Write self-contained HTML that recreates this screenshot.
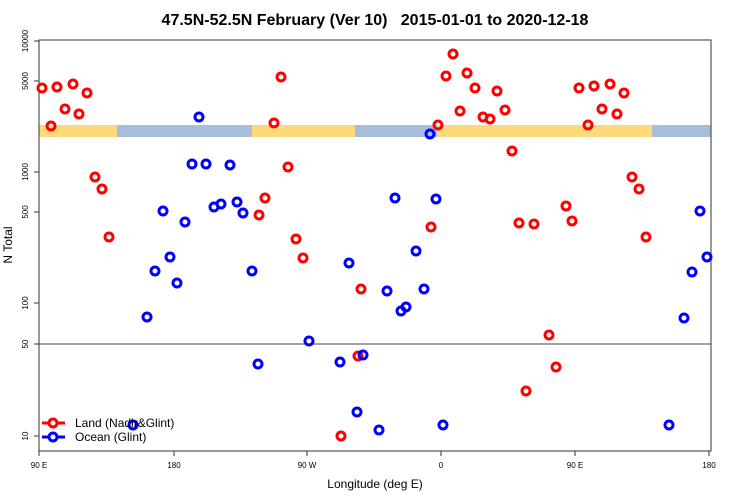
<!DOCTYPE html>
<html><head><style>body{margin:0;background:#fff}svg{display:block;font-family:"Liberation Sans",sans-serif}</style></head><body>
<svg width="750" height="500" xmlns="http://www.w3.org/2000/svg">
<text x="375" y="25" text-anchor="middle" font-size="16" font-weight="bold">47.5N-52.5N February (Ver 10)&#160;&#160; 2015-01-01 to 2020-12-18</text>
<g>
<rect x="39" y="125" width="672" height="12" fill="#a7bedb"/>
<rect x="39" y="125" width="78" height="12" fill="#fdd97a"/>
<rect x="252" y="125" width="103" height="12" fill="#fdd97a"/>
<rect x="437" y="125" width="215" height="12" fill="#fdd97a"/>
</g>
<line x1="39" y1="344" x2="711" y2="344" stroke="#444" stroke-width="1"/>
<rect x="39" y="40" width="672" height="411" fill="none" stroke="#333" stroke-width="1"/>
<g stroke="#333">
<line x1="39" y1="451" x2="39" y2="456"/><line x1="174" y1="451" x2="174" y2="456"/><line x1="307" y1="451" x2="307" y2="456"/><line x1="441" y1="451" x2="441" y2="456"/><line x1="575" y1="451" x2="575" y2="456"/><line x1="709" y1="451" x2="709" y2="456"/>
<line x1="34" y1="41" x2="39" y2="41"/><line x1="34" y1="81" x2="39" y2="81"/><line x1="34" y1="172" x2="39" y2="172"/><line x1="34" y1="212" x2="39" y2="212"/><line x1="34" y1="303" x2="39" y2="303"/><line x1="34" y1="344" x2="39" y2="344"/><line x1="34" y1="436" x2="39" y2="436"/>
</g>
<g font-size="8" text-anchor="middle">
<text x="39" y="468">90 E</text><text x="174" y="468">180</text><text x="307" y="468">90 W</text><text x="441" y="468">0</text><text x="575" y="468">90 E</text><text x="709" y="468">180</text>
<text transform="translate(28,41) rotate(-90)">10000</text>
<text transform="translate(28,81) rotate(-90)">5000</text>
<text transform="translate(28,172) rotate(-90)">1000</text>
<text transform="translate(28,212) rotate(-90)">500</text>
<text transform="translate(28,303) rotate(-90)">100</text>
<text transform="translate(28,344) rotate(-90)">50</text>
<text transform="translate(28,436) rotate(-90)">10</text>
</g>
<text x="375" y="488" text-anchor="middle" font-size="12">Longitude (deg E)</text>
<text transform="translate(12,245) rotate(-90)" text-anchor="middle" font-size="12">N Total</text>
<g fill="none" stroke="#f00" stroke-width="3">
<circle cx="42" cy="88" r="4"/><circle cx="51" cy="126" r="4"/><circle cx="57" cy="87" r="4"/><circle cx="65" cy="109" r="4"/><circle cx="73" cy="84" r="4"/><circle cx="79" cy="114" r="4"/><circle cx="87" cy="93" r="4"/><circle cx="95" cy="177" r="4"/><circle cx="102" cy="189" r="4"/><circle cx="109" cy="237" r="4"/>
<circle cx="259" cy="215" r="4"/><circle cx="265" cy="198" r="4"/><circle cx="274" cy="123" r="4"/><circle cx="281" cy="77" r="4"/><circle cx="288" cy="167" r="4"/><circle cx="296" cy="239" r="4"/><circle cx="303" cy="258" r="4"/><circle cx="341" cy="436" r="4"/><circle cx="358" cy="356" r="4"/><circle cx="361" cy="289" r="4"/>
<circle cx="431" cy="227" r="4"/><circle cx="438" cy="125" r="4"/><circle cx="446" cy="76" r="4"/><circle cx="453" cy="54" r="4"/><circle cx="460" cy="111" r="4"/><circle cx="467" cy="73" r="4"/><circle cx="475" cy="88" r="4"/><circle cx="483" cy="117" r="4"/><circle cx="490" cy="119" r="4"/><circle cx="497" cy="91" r="4"/><circle cx="505" cy="110" r="4"/><circle cx="512" cy="151" r="4"/><circle cx="519" cy="223" r="4"/><circle cx="526" cy="391" r="4"/><circle cx="534" cy="224" r="4"/><circle cx="549" cy="335" r="4"/><circle cx="556" cy="367" r="4"/><circle cx="566" cy="206" r="4"/><circle cx="572" cy="221" r="4"/><circle cx="579" cy="88" r="4"/><circle cx="588" cy="125" r="4"/><circle cx="594" cy="86" r="4"/><circle cx="602" cy="109" r="4"/><circle cx="610" cy="84" r="4"/><circle cx="617" cy="114" r="4"/><circle cx="624" cy="93" r="4"/><circle cx="632" cy="177" r="4"/><circle cx="639" cy="189" r="4"/><circle cx="646" cy="237" r="4"/>
</g>
<g fill="none" stroke="#00f" stroke-width="3">
<circle cx="133" cy="425" r="4"/><circle cx="147" cy="317" r="4"/><circle cx="155" cy="271" r="4"/><circle cx="163" cy="211" r="4"/><circle cx="170" cy="257" r="4"/><circle cx="177" cy="283" r="4"/><circle cx="185" cy="222" r="4"/><circle cx="192" cy="164" r="4"/><circle cx="199" cy="117" r="4"/><circle cx="206" cy="164" r="4"/><circle cx="214" cy="207" r="4"/><circle cx="221" cy="204" r="4"/><circle cx="230" cy="165" r="4"/><circle cx="237" cy="202" r="4"/><circle cx="243" cy="213" r="4"/><circle cx="252" cy="271" r="4"/><circle cx="258" cy="364" r="4"/><circle cx="309" cy="341" r="4"/><circle cx="340" cy="362" r="4"/><circle cx="349" cy="263" r="4"/><circle cx="357" cy="412" r="4"/><circle cx="363" cy="355" r="4"/><circle cx="379" cy="430" r="4"/><circle cx="387" cy="291" r="4"/><circle cx="395" cy="198" r="4"/><circle cx="401" cy="311" r="4"/><circle cx="406" cy="307" r="4"/><circle cx="416" cy="251" r="4"/><circle cx="424" cy="289" r="4"/><circle cx="430" cy="134" r="4"/><circle cx="436" cy="199" r="4"/><circle cx="443" cy="425" r="4"/><circle cx="669" cy="425" r="4"/><circle cx="684" cy="318" r="4"/><circle cx="692" cy="272" r="4"/><circle cx="700" cy="211" r="4"/><circle cx="707" cy="257" r="4"/>
</g>
<g stroke-width="3" fill="#fff">
<line x1="42" y1="423" x2="65" y2="423" stroke="#f00"/><circle cx="53" cy="423" r="4" stroke="#f00"/>
<line x1="42" y1="437" x2="65" y2="437" stroke="#00f"/><circle cx="53" cy="437" r="4" stroke="#00f"/>
</g>
<text x="75" y="427" font-size="12">Land (Nadir&amp;Glint)</text>
<text x="75" y="441" font-size="12">Ocean (Glint)</text>
</svg>
</body></html>
